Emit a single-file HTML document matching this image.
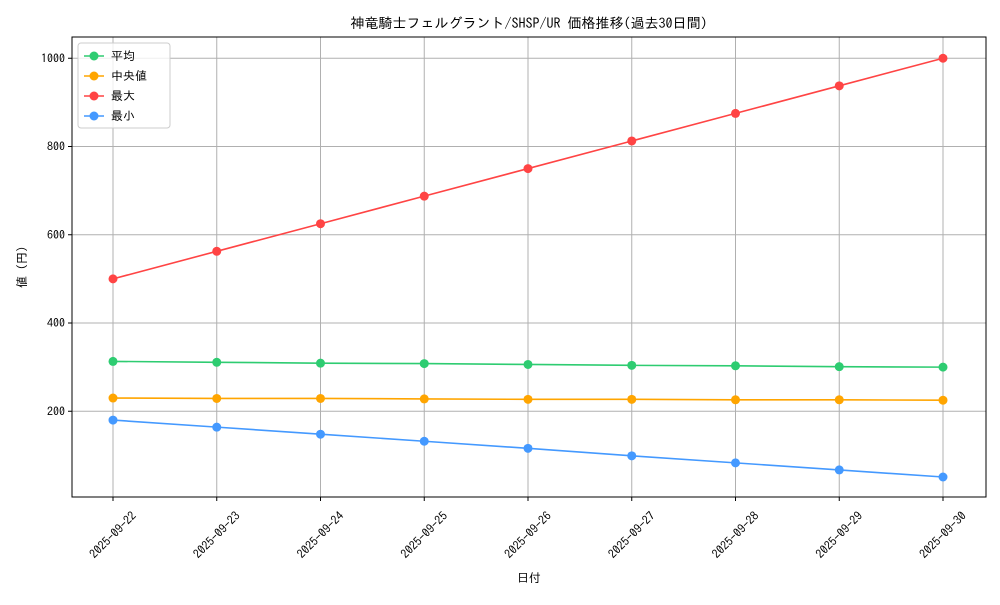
<!DOCTYPE html>
<html><head><meta charset="utf-8">
<style>
body{margin:0;background:#fff;}
svg text{font-family:"IPAGothic","Noto Sans CJK JP",sans-serif;fill:#000;}
</style></head>
<body>
<svg id="chart" width="1000" height="600" xmlns="http://www.w3.org/2000/svg"></svg>
<script>
const categories=["2025-09-22","2025-09-23","2025-09-24","2025-09-25","2025-09-26","2025-09-27","2025-09-28","2025-09-29","2025-09-30"];
const meanVals=[313,311,309,308,306,304,303,301,300];
const medianVals=[230,229,229,228,227,227,226,226,225];
const maxVals=[500,562.5,625,687.5,750,812.5,875,937.5,1000];
const minVals=[180,164,148,132,116,99,83,67,51];
const yTicks=[200,400,600,800,1000];
const seriesNames=["平均","中央値","最大","最小"];
const colors=["#2ecc71","#ffa500","#ff4444","#4499ff"];

const NS="http://www.w3.org/2000/svg";
const svg=document.getElementById('chart');
const L=72,R=986,T=37,B=497;
const x0=113,x1=943;
function xs(i){return x0+(x1-x0)*i/(categories.length-1);}
function ys(v){return 499.5-v*0.44125;}
function el(tag,attrs,parent){const e=document.createElementNS(NS,tag);for(const k in attrs)e.setAttribute(k,attrs[k]);(parent||svg).appendChild(e);return e;}

const grid=el('g',{});


categories.forEach((c,i)=>{el('line',{x1:xs(i),x2:xs(i),y1:T,y2:B,stroke:'#b0b0b0','stroke-width':1},grid);});
yTicks.forEach(v=>{el('line',{x1:L,x2:R,y1:ys(v),y2:ys(v),stroke:'#b0b0b0','stroke-width':1},grid);});

const box=el('rect',{x:L,y:T,width:R-L,height:B-T,fill:'none',stroke:'#000','stroke-width':1});



const yax=el('g',{});


yTicks.forEach(v=>{
  el('line',{x1:L-4,x2:L,y1:ys(v),y2:ys(v),stroke:'#000'},yax);
  const t=el('text',{x:L-7,y:ys(v)+4,'text-anchor':'end','font-size':12},yax);t.textContent=v;
});
const xax=el('g',{});


categories.forEach((c,i)=>{
  el('line',{x1:xs(i),x2:xs(i),y1:B,y2:B+4,stroke:'#000'},xax);
  const cx=xs(i), cy=B+38;
  const t=el('text',{x:cx,y:cy+4,'text-anchor':'middle','font-size':12,transform:`rotate(-45 ${cx} ${cy})`},xax);t.textContent=c;
});

const title=el('text',{x:529,y:28,'text-anchor':'middle','font-size':14});
title.textContent="神竜騎士フェルグラント/SHSP/UR 価格推移(過去30日間)";


const xt=el('text',{x:529,y:582,'text-anchor':'middle','font-size':12});
xt.textContent="日付";


const yt=el('text',{x:26,y:267,'text-anchor':'middle','font-size':12,transform:'rotate(-90 26 267)'});
yt.textContent="値 (円)";



const allSeries=[meanVals,medianVals,maxVals,minVals];
const sNames=['series-mean','series-median','series-max','series-min'];
allSeries.forEach((vals,s)=>{
  const g=el('g',{});
  
  
  el('polyline',{points:vals.map((v,i)=>xs(i)+','+ys(v)).join(' '),fill:'none',stroke:colors[s],'stroke-width':1.6},g);
  vals.forEach((v,i)=>{
    const c=el('circle',{cx:xs(i),cy:ys(v),r:4.5,fill:colors[s]},g);
    
    
  });
});

const lg=el('g',{});


el('rect',{x:78,y:43,width:92,height:85,rx:3,fill:'#fff','fill-opacity':0.8,stroke:'#ccc'},lg);
seriesNames.forEach((n,s)=>{
  const y=56+s*20;
  const e=el('g',{},lg);
  
  
  el('line',{x1:84,x2:104,y1:y,y2:y,stroke:colors[s],'stroke-width':1.6},e);
  el('circle',{cx:94,cy:y,r:4.5,fill:colors[s]},e);
  const t=el('text',{x:111,y:y+4,'font-size':12},e);t.textContent=n;
});
</script>
</body></html>
